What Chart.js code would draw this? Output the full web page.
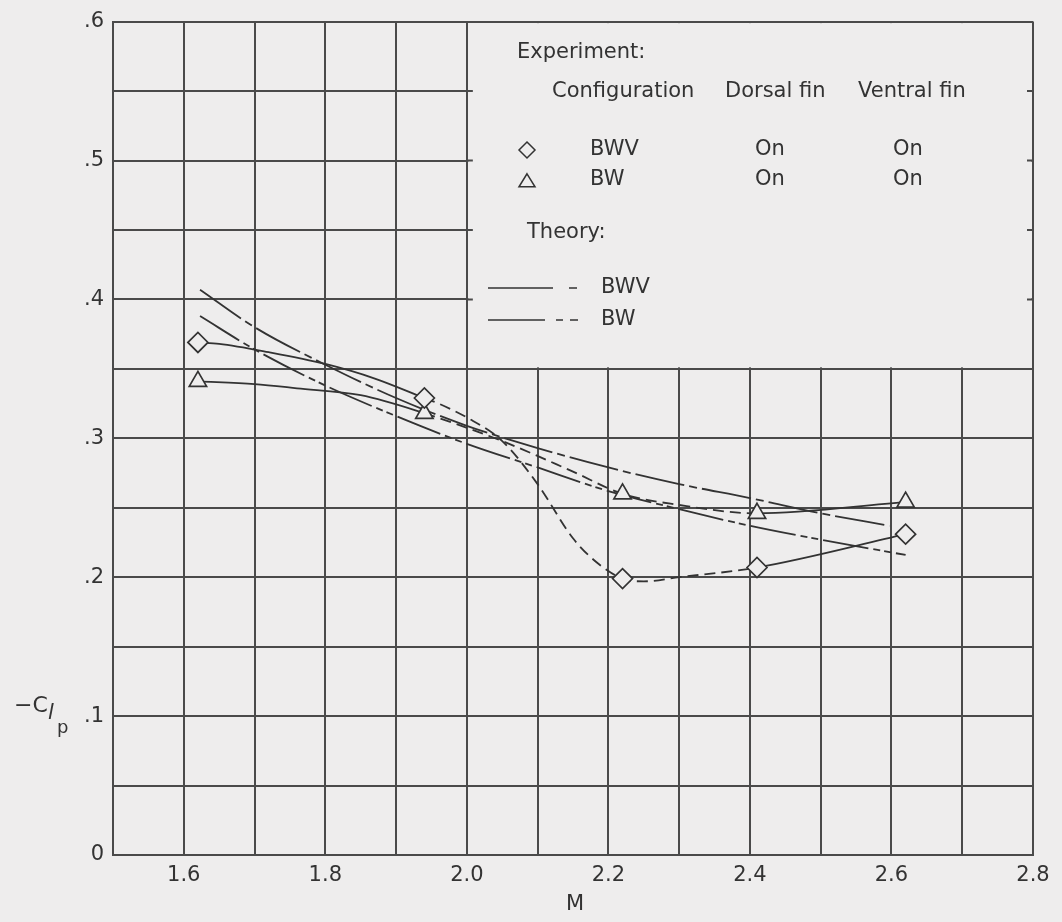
<!DOCTYPE html>
<html>
<head>
<meta charset="utf-8">
<script src="https://cdn.jsdelivr.net/npm/chart.js@4.4.1/dist/chart.umd.min.js"></script>
<style>
  html, body { margin: 0; padding: 0; background: #eeeded; }
</style>
</head>
<body>
<canvas id="clpChart" width="1062" height="922"></canvas>
<script>
// experiment, symbols
const bwvExpM = [1.62, 1.94, 2.22, 2.41, 2.62];
const bwvExpCl = [0.369, 0.329, 0.199, 0.207, 0.231];
const bwExpM = [1.62, 1.94, 2.22, 2.41, 2.62];
const bwExpCl = [0.341, 0.318, 0.260, 0.246, 0.254];

// faired curves through the experiment
const bwvFairM = [1.62, 1.65, 1.72, 1.80, 1.87, 1.94, 1.96, 2.00, 2.05, 2.10, 2.15, 2.185, 2.22, 2.25, 2.30, 2.41, 2.62];
const bwvFairCl = [0.369, 0.368, 0.362, 0.3535, 0.343, 0.329, 0.325, 0.315, 0.298, 0.267, 0.228, 0.210, 0.199, 0.197, 0.200, 0.207, 0.231];
const bwFairM = [1.62, 1.70, 1.76, 1.85, 1.94, 2.05, 2.15, 2.22, 2.30, 2.41, 2.62];
const bwFairCl = [0.341, 0.339, 0.336, 0.331, 0.318, 0.298, 0.276, 0.260, 0.252, 0.246, 0.254];

// theory
const thBwvM = [1.623, 1.70, 1.80, 1.90, 2.00, 2.10, 2.20, 2.30, 2.40, 2.50, 2.597];
const thBwvCl = [0.407, 0.380, 0.353, 0.329, 0.309, 0.293, 0.279, 0.267, 0.257, 0.246, 0.237];
const thBwM = [1.623, 1.70, 1.80, 1.90, 2.00, 2.10, 2.20, 2.30, 2.40, 2.50, 2.62];
const thBwCl = [0.388, 0.364, 0.338, 0.316, 0.296, 0.279, 0.262, 0.249, 0.237, 0.227, 0.216];

const xLabels = ["1.6", "1.8", "2.0", "2.2", "2.4", "2.6", "2.8"];
const yLabels = ["0", ".1", ".2", ".3", ".4", ".5", ".6"];

const bg = '#eeeded';
const ink = '#333333';
const gridInk = '#4a4a4a';
const font = "'DejaVu Sans', sans-serif";

const pts = (xs, ys) => xs.map((x, i) => ({ x, y: ys[i] }));

// dashed between 1.94 and 2.41
const fairDash = ctx => {
  const a = ctx.p0.parsed.x, b = ctx.p1.parsed.x;
  return (a >= 1.939 && b <= 2.411) ? [11, 6] : undefined;
};

const bgPlugin = {
  id: 'bg',
  beforeDraw(chart) {
    const c = chart.ctx;
    c.save();
    c.fillStyle = bg;
    c.fillRect(0, 0, chart.width, chart.height);
    c.restore();
  }
};

function symbol(c, kind, x, y, r) {
  c.beginPath();
  if (kind === 'diamond') {
    c.moveTo(x, y - r); c.lineTo(x + r, y); c.lineTo(x, y + r); c.lineTo(x - r, y);
  } else {
    const h = r * 0.9;
    c.moveTo(x, y - h); c.lineTo(x + r, y + h * 0.8); c.lineTo(x - r, y + h * 0.8);
  }
  c.closePath();
  c.stroke();
}

const keyPlugin = {
  id: 'keyBox',
  beforeDatasetsDraw(chart) {
    const c = chart.ctx;
    const xs = chart.scales.x, ys = chart.scales.y;
    const l = xs.getPixelForValue(2.0), r = xs.getPixelForValue(2.8);
    const t = ys.getPixelForValue(0.6), b = ys.getPixelForValue(0.35);
    c.save();
    c.fillStyle = bg;
    c.fillRect(l + 1.5, t + 1.5, r - l - 3, b - t - 3);
    c.strokeStyle = gridInk;
    c.lineWidth = 2;
    [0.4, 0.45, 0.5, 0.55].forEach(v => {
      const y = ys.getPixelForValue(v);
      c.beginPath();
      c.moveTo(l, y); c.lineTo(l + 6, y);
      c.moveTo(r - 6, y); c.lineTo(r, y);
      c.stroke();
    });

    c.fillStyle = ink;
    c.textBaseline = 'middle';
    c.font = `21px ${font}`;
    c.fillText('Experiment:', 517, 53);
    c.fillText('Configuration', 552, 92);
    c.fillText('Dorsal fin', 725, 92);
    c.fillText('Ventral fin', 858, 92);
    c.fillText('BWV', 590, 150);
    c.fillText('On', 755, 150);
    c.fillText('On', 893, 150);
    c.fillText('BW', 590, 180);
    c.fillText('On', 755, 180);
    c.fillText('On', 893, 180);
    c.fillText('Theory:', 527, 233);
    c.fillText('BWV', 601, 288);
    c.fillText('BW', 601, 320);

    c.strokeStyle = ink;
    c.lineWidth = 1.5;
    symbol(c, 'diamond', 527, 150, 8);
    symbol(c, 'triangle', 527, 181, 8);

    c.beginPath();
    c.moveTo(488, 288); c.lineTo(553, 288);
    c.moveTo(569, 288); c.lineTo(577, 288);
    c.moveTo(488, 320); c.lineTo(545, 320);
    c.moveTo(556, 320); c.lineTo(563, 320);
    c.moveTo(570, 320); c.lineTo(578, 320);
    c.stroke();
    c.restore();
  },
  afterDraw(chart) {
    const c = chart.ctx;
    c.save();
    c.fillStyle = ink;
    c.textBaseline = 'middle';
    c.font = `21px ${font}`;
    c.textAlign = 'center';
    c.fillText('M', 575, 905);
    c.textAlign = 'left';
    c.font = `22px ${font}`;
    c.fillText('\u2212C', 14, 706);
    c.font = `italic 21px ${font}`;
    c.fillText('l', 48, 714);
    c.font = `18px ${font}`;
    c.fillText('p', 57, 728);
    c.restore();
  }
};

const lineBase = {
  type: 'line',
  showLine: true,
  pointRadius: 0,
  pointHoverRadius: 0,
  borderColor: ink,
  borderWidth: 1.8,
  fill: false,
  cubicInterpolationMode: 'monotone'
};

new Chart(document.getElementById('clpChart').getContext('2d'), {
  type: 'scatter',
  data: {
    datasets: [
      {
        label: 'BWV experiment',
        data: pts(bwvExpM, bwvExpCl),
        pointStyle: 'rectRot',
        pointRadius: 10,
        pointBorderWidth: 1.7,
        pointBorderColor: ink,
        pointBackgroundColor: bg
      },
      {
        label: 'BW experiment',
        data: pts(bwExpM, bwExpCl),
        pointStyle: 'triangle',
        pointRadius: 10,
        pointBorderWidth: 1.7,
        pointBorderColor: ink,
        pointBackgroundColor: bg
      },
      { ...lineBase, label: 'BWV fairing', data: pts(bwvFairM, bwvFairCl), segment: { borderDash: fairDash } },
      { ...lineBase, label: 'BW fairing', data: pts(bwFairM, bwFairCl), segment: { borderDash: fairDash } },
      { ...lineBase, label: 'BWV theory', data: pts(thBwvM, thBwvCl), borderDash: [50, 5, 8, 5] },
      { ...lineBase, label: 'BW theory', data: pts(thBwM, thBwCl), borderDash: [46, 5, 7, 4, 7, 5] }
    ]
  },
  options: {
    responsive: false,
    animation: false,
    layout: { padding: { top: 20, right: 29, left: 0, bottom: 0 } },
    plugins: {
      legend: { display: false },
      tooltip: { enabled: false }
    },
    scales: {
      x: {
        type: 'linear',
        min: 1.5,
        max: 2.8,
        afterFit: s => { s.height = 67; },
        border: { color: gridInk, width: 2 },
        grid: { color: gridInk, lineWidth: 2, drawTicks: false },
        ticks: {
          stepSize: 0.1,
          autoSkip: false,
          maxRotation: 0,
          padding: 8,
          color: ink,
          font: { family: font, size: 21 },
          callback: v => {
            const k = Math.round(v * 10);
            return (k % 2 === 0 && k >= 16) ? xLabels[(k - 16) / 2] : '';
          }
        }
      },
      y: {
        min: 0,
        max: 0.6,
        afterFit: s => { s.width = 113; },
        border: { color: gridInk, width: 2 },
        grid: { color: gridInk, lineWidth: 2, drawTicks: false },
        ticks: {
          stepSize: 0.05,
          autoSkip: false,
          padding: 9,
          color: ink,
          font: { family: font, size: 21 },
          callback: v => {
            const k = Math.round(v * 100);
            return k % 10 === 0 ? yLabels[k / 10] : '';
          }
        }
      }
    }
  },
  plugins: [bgPlugin, keyPlugin]
});
</script>
</body>
</html>
